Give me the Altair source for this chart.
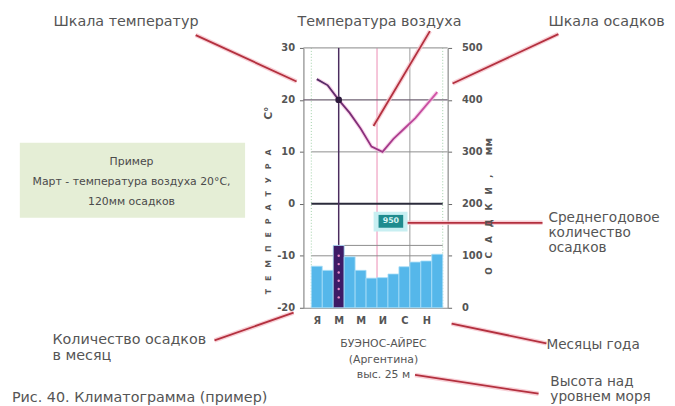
import altair as alt
import pandas as pd

# ---------------- values ----------------
months = ["Я", "Ф", "М", "А", "М", "И", "И", "А", "С", "О", "Н", "Д"]
month_axis_labels = ["Я", "М", "М", "И", "С", "Н"]          # shown every 2nd month
temperature_c = [24.0, 22.8, 20.0, 17.5, 14.5, 11.0, 10.0, 12.5, 14.5, 16.5, 19.0, 21.5]
precip_mm = [80, 72, 120, 98, 72, 57, 58, 65, 79, 88, 90, 103]
highlight_month = 2                                          # March (example)
annual_precip_label = "950"
temp_ticks = [-20, -10, 0, 10, 20, 30]
precip_ticks = [0, 100, 200, 300, 400, 500]
march_bar_dots_mm = [100, 84, 68, 52, 36, 20]

# ---------------- annotation texts ----------------
top_left_texts = ["Шкала температур", "Шкала осадков"]
top_center_text = "Температура воздуха"
right_texts = ["Среднегодовое", "количество", "осадков", "Месяцы года", "Высота над", "уровнем моря"]
left_texts = ["Количество осадков", "в месяц"]
caption_text = "Рис. 40. Климатограмма (пример)"
city_texts = ["БУЭНОС-АЙРЕС", "(Аргентина)", "выс. 25 м"]
example_texts = ["Пример", "Март - температура воздуха 20°С,", "120мм осадков"]
temp_title = "\u2003".join(list("ТЕМПЕРАТУРА"))
temp_unit = "С°"
precip_title = "\u2003".join(list("ОСАДКИ,"))
precip_unit = "мм"

# ---------------- annotation positions (month units, °C units) ----------------
top_left_x = [-23.55, 21.65]
top_y = 34.9
top_center_x = 6.23
right_x = [21.65, 21.65, 21.65, 21.47, 21.83, 21.83]
right_y = [-2.70, -5.65, -8.59, -27.22, -34.20, -37.15]
left_x = [-23.64, -23.64]
left_y = [-26.27, -29.32]
caption_xy = (-27.34, -37.30)
city_x = 6.59
city_y = [-27.03, -30.08, -32.93]
example_x = -16.42
example_y = [7.95, 4.14, 0.34]
example_box = (-26.62, -6.05, 11.75, -2.70)
annual_box = (6.14, 8.39, -2.13, -4.60)
leader_x1 = [-10.56, 10.83, 22.56, 8.39, -8.84, 12.81, 9.47]
leader_y1 = [32.47, 33.23, 32.66, -3.65, -26.27, -23.04, -32.93]
leader_x2 = [-1.35, 5.68, 12.90, 21.11, -1.62, 21.47, 20.75]
leader_y2 = [23.54, 14.98, 23.16, -3.65, -20.95, -26.84, -36.54]
title_x_left, title_x_right = -3.88, 16.24

X_DOMAIN = [-0.722, 12.451]
T_DOMAIN = [-20, 30]
P_DOMAIN = [0, 500]

FONT = "DejaVu Sans"
TXT = "#555555"

XS = alt.Scale(domain=X_DOMAIN, nice=False, zero=False)
TS = alt.Scale(domain=T_DOMAIN, nice=False, zero=False)
PS = alt.Scale(domain=P_DOMAIN, nice=False, zero=False)

n = len(months)
left_axis = alt.Axis(values=temp_ticks, orient="left", labelFont=FONT, labelFontSize=10,
                     labelFontWeight="bold", labelColor="#555", tickColor="#666",
                     tickSize=4, domainColor="#8a8a8a", domainWidth=1.2, labelPadding=5,
                     labelExpr="datum.value + ''", grid=False, title=None)
right_axis = alt.Axis(values=precip_ticks, orient="right", labelFont=FONT, labelFontSize=10,
                      labelFontWeight="bold", labelColor="#555", tickColor="#666",
                      tickSize=4, domainColor="#8a8a8a", domainWidth=1.2, labelPadding=10,
                      grid=False, title=None)
x_axis = alt.Axis(values=[i + 0.5 for i in range(0, n, 2)],
                  labelExpr="[" + ",".join(f"'{s}'" for s in month_axis_labels) + "][round((datum.value-0.5)/2)]",
                  labelFont=FONT, labelFontSize=10, labelFontWeight="bold", labelColor="#555",
                  ticks=False, domainColor="#8a8a8a", domainWidth=1.2, labelPadding=8,
                  grid=False, title=None)


def X(f="x"):
    return alt.X(f"{f}:Q", scale=XS, axis=x_axis)


def YB(f="y"):   # background temperature layers: carry the left axis
    return alt.Y(f"{f}:Q", scale=TS, axis=left_axis)


def Y(f="y"):    # foreground temperature layers
    return alt.Y(f"{f}:Q", scale=TS, axis=None)


# ---------------- tables ----------------
bars_df = pd.DataFrame({"idx": list(range(n)), "m0": list(range(n)),
                        "m1": [i + 1 for i in range(n)], "p": precip_mm, "p0": [0] * n})
temp_df = pd.DataFrame({"x": [i + 0.5 for i in range(n)], "y": temperature_c})
dot_df = pd.DataFrame({"x": [highlight_month + 0.5], "y": [temperature_c[highlight_month]]})
bar_dots_df = pd.DataFrame({"x": [highlight_month + 0.5] * len(march_bar_dots_mm), "p": march_bar_dots_mm})

# ---------------- background layer (temperature scale) ----------------
top_line = alt.Chart(pd.DataFrame({"y": [30], "x": [X_DOMAIN[0]], "x2": [X_DOMAIN[1]]})).mark_rule(
    color="#a0a0a0", strokeWidth=1.2).encode(x=X(), x2="x2:Q", y=YB())
hgrid_main = alt.Chart(pd.DataFrame({"y": [20], "x": [X_DOMAIN[0]], "x2": [X_DOMAIN[1]]})).mark_rule(
    color="#6f6273", strokeWidth=1.4).encode(x=X(), x2="x2:Q", y=YB())
hgrid_thin = alt.Chart(pd.DataFrame({"y": [10, -10, -8], "x": [0, 0, 3], "x2": [12.45, 12, 12]})).mark_rule(
    color="#8c8c8c", strokeWidth=1).encode(x=X(), x2="x2:Q", y=YB())
zero_line = alt.Chart(pd.DataFrame({"y": [0], "x": [0], "x2": [12]})).mark_rule(
    color="#2b2b3b", strokeWidth=2).encode(x=X(), x2="x2:Q", y=YB())
v_march = alt.Chart(pd.DataFrame({"x": [highlight_month + 0.5], "y": [30], "y2": [-8]})).mark_rule(
    color="#4b2d5e", strokeWidth=1.5).encode(x=X(), y=YB(), y2="y2:Q")
v_pink = alt.Chart(pd.DataFrame({"x": [6.0], "y": [30], "y2": [-20]})).mark_rule(
    color="#f0a6c6", strokeWidth=1.3).encode(x=X(), y=YB(), y2="y2:Q")
v_gray = alt.Chart(pd.DataFrame({"x": [9.0], "y": [30], "y2": [-20]})).mark_rule(
    color="#9a9a9a", strokeWidth=1).encode(x=X(), y=YB(), y2="y2:Q")
v_dotted = alt.Chart(pd.DataFrame({"x": [0, 12], "y": [30, 30], "y2": [-20, -20]})).mark_rule(
    color="#9fd0a8", strokeWidth=1, strokeDash=[1, 2]).encode(x=X(), y=YB(), y2="y2:Q")

background = alt.layer(v_dotted, v_pink, v_gray, hgrid_thin, top_line, hgrid_main, zero_line, v_march)

# ---------------- precipitation layer ----------------
bars = alt.Chart(bars_df).mark_bar(stroke="#a9def7", strokeWidth=0.8).encode(
    x=alt.X("m0:Q", scale=XS, axis=x_axis),
    x2="m1:Q",
    y=alt.Y("p:Q", scale=PS, axis=right_axis),
    y2="p0:Q",
    color=alt.condition(alt.datum.idx == highlight_month, alt.value("#3d1b66"), alt.value("#55b7ea")),
)
bar_dots = alt.Chart(bar_dots_df).mark_circle(color="#e58ac8", size=6, opacity=1).encode(
    x=X(), y=alt.Y("p:Q", scale=PS, axis=right_axis))
precip_layer = alt.layer(bars, bar_dots)

# ---------------- foreground layer (temperature scale) ----------------
grad = alt.Gradient(gradient="linear",
                    stops=[alt.GradientStop(color="#4d2a63", offset=0),
                           alt.GradientStop(color="#93307f", offset=0.45),
                           alt.GradientStop(color="#d455a8", offset=1)],
                    x1=0, x2=1, y1=0, y2=0)
temp_halo = alt.Chart(temp_df).mark_line(stroke="#f4bfe0", strokeWidth=4, opacity=0.7).encode(x=X(), y=Y())
temp_line = alt.Chart(temp_df).mark_line(stroke=grad, strokeWidth=1.8).encode(x=X(), y=Y())
temp_dot = alt.Chart(dot_df).mark_circle(color="#2e1a3d", size=45, opacity=1).encode(x=X(), y=Y())

leader_df = pd.DataFrame({"x": leader_x1, "y": leader_y1, "x2": leader_x2, "y2": leader_y2})
leader_halo = alt.Chart(leader_df).mark_rule(color="#f6c3cc", strokeWidth=4.5, opacity=0.8).encode(
    x=X(), y=Y(), x2="x2:Q", y2="y2:Q")
leader = alt.Chart(leader_df).mark_rule(color="#b3303e", strokeWidth=1.8).encode(
    x=X(), y=Y(), x2="x2:Q", y2="y2:Q")

ex_box = alt.Chart(pd.DataFrame({"x": [example_box[0]], "x2": [example_box[1]],
                                 "y": [example_box[2]], "y2": [example_box[3]]})).mark_rect(
    color="#e5eed6").encode(x=X(), x2="x2:Q", y=Y(), y2="y2:Q")
an_glow = alt.Chart(pd.DataFrame({"x": [annual_box[0] - 0.45], "x2": [annual_box[1] + 0.4],
                                  "y": [annual_box[2] + 0.6], "y2": [annual_box[3] - 0.7]})).mark_rect(
    color="#c8eff2").encode(x=X(), x2="x2:Q", y=Y(), y2="y2:Q")
an_box = alt.Chart(pd.DataFrame({"x": [annual_box[0]], "x2": [annual_box[1]],
                                 "y": [annual_box[2]], "y2": [annual_box[3]]})).mark_rect(
    color="#1f8b8e").encode(x=X(), x2="x2:Q", y=Y(), y2="y2:Q")
an_text = alt.Chart(pd.DataFrame({"x": [(annual_box[0] + annual_box[1]) / 2],
                                  "y": [(annual_box[2] + annual_box[3]) / 2],
                                  "t": [annual_precip_label]})).mark_text(
    font=FONT, fontSize=8, fontWeight="bold", color="#d8f4f4", baseline="middle", align="center").encode(
    x=X(), y=Y(), text="t:N")


def texts(xs, ys, labels, size, align="left", color=TXT, weight="normal", angle=None):
    df = pd.DataFrame({"x": xs, "y": ys, "t": labels})
    kw = dict(font=FONT, fontSize=size, color=color, align=align, baseline="middle", fontWeight=weight)
    if angle is not None:
        kw["angle"] = angle
    return alt.Chart(df).mark_text(**kw).encode(x=X(), y=Y(), text="t:N")


t_top_left = texts(top_left_x, [top_y] * 2, top_left_texts, 14.5)
t_top_center = texts([top_center_x], [top_y], [top_center_text], 14.5, align="center")
t_right = texts(right_x, right_y, right_texts, 13.8)
t_left = texts(left_x, left_y, left_texts, 14.5)
t_caption = texts([caption_xy[0]], [caption_xy[1]], [caption_text], 14.5)
t_city = texts([city_x] * 3, city_y, city_texts, 11, align="center")
t_example = texts([example_x] * 3, example_y, example_texts, 11, align="center", color="#4a4a4a")
t_ttitle = texts([title_x_left], [-3.46], [temp_title], 8, align="center", weight="bold", angle=270)
t_tunit = texts([title_x_left], [17.45], [temp_unit], 11, align="center", weight="bold", angle=270)
t_ptitle = texts([title_x_right], [-4.03], [precip_title], 9, align="center", weight="bold", angle=270)
t_punit = texts([title_x_right], [10.99], [precip_unit], 11, align="center", weight="bold", angle=270)

foreground = alt.layer(
    ex_box, leader_halo, leader, an_glow, an_box, an_text,
    temp_halo, temp_line, temp_dot,
    t_top_left, t_top_center, t_right, t_left, t_caption, t_city, t_example,
    t_ttitle, t_tunit, t_ptitle, t_punit,
)

chart = alt.layer(background, precip_layer, foreground).resolve_scale(y="independent").properties(
    width=146, height=263,
    autosize=alt.AutoSizeParams(type="none"),
    padding={"left": 299, "top": 38, "right": 222, "bottom": 97},
    background="white",
).configure_view(stroke=None)

chart.save("out.html", embed_options={"renderer": "svg", "actions": False})
